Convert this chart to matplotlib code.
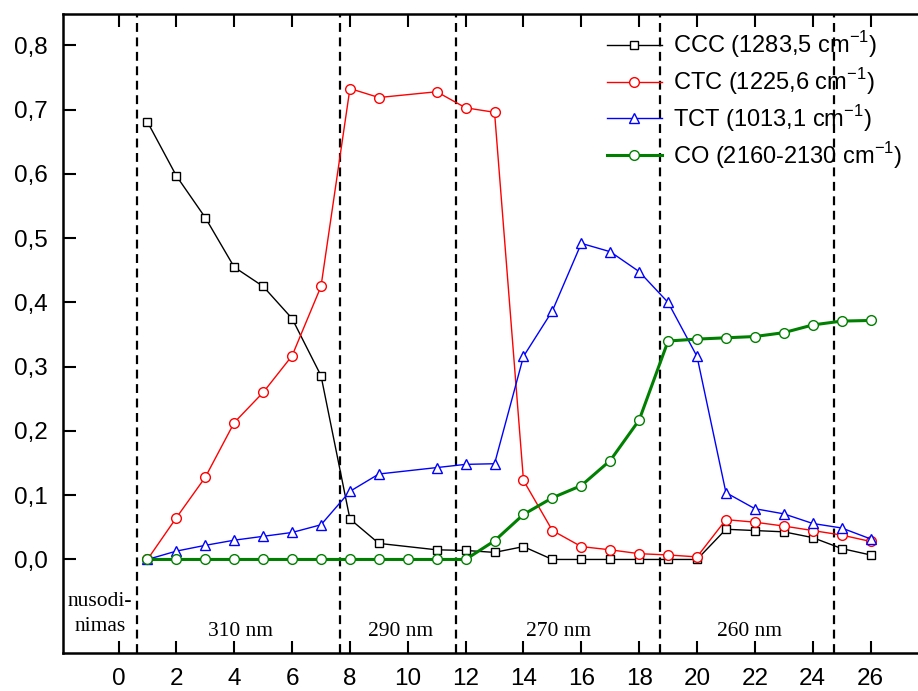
import matplotlib
matplotlib.use("Agg")
import matplotlib.pyplot as plt
import numpy as np

plt.rcParams["font.family"] = ["Liberation Sans", "DejaVu Sans"]
plt.rcParams["mathtext.fontset"] = "custom"
plt.rcParams["mathtext.rm"] = "Liberation Sans"

# irradiation step number
x_all = np.arange(1, 27)
x_no10 = np.array([1, 2, 3, 4, 5, 6, 7, 8, 9, 11, 12, 13, 14, 15, 16, 17, 18, 19,
                   20, 21, 22, 23, 24, 25, 26])

ccc = [0.681, 0.597, 0.532, 0.455, 0.425, 0.375, 0.286, 0.063, 0.025, 0.015,
       0.014, 0.011, 0.020, 0.0, 0.0, 0.0, 0.0, 0.0, 0.0, 0.047, 0.045, 0.043,
       0.034, 0.017, 0.007]
ctc = [0.0, 0.065, 0.128, 0.213, 0.260, 0.317, 0.425, 0.733, 0.719, 0.728,
       0.703, 0.696, 0.123, 0.045, 0.020, 0.015, 0.009, 0.007, 0.004, 0.062,
       0.058, 0.052, 0.045, 0.038, 0.028]
tct = [0.0, 0.013, 0.022, 0.030, 0.036, 0.042, 0.054, 0.106, 0.133, 0.143,
       0.148, 0.149, 0.316, 0.387, 0.492, 0.479, 0.448, 0.400, 0.316, 0.104,
       0.079, 0.071, 0.056, 0.049, 0.032]
co = [0.0, 0.0, 0.0, 0.0, 0.0, 0.0, 0.0, 0.0, 0.0, 0.0, 0.0, 0.0, 0.029, 0.070,
      0.096, 0.115, 0.154, 0.217, 0.340, 0.343, 0.345, 0.347, 0.353, 0.365,
      0.371, 0.372]

labels = ["CCC (1283,5 cm$^{\\mathrm{-1}}$)", "CTC (1225,6 cm$^{\\mathrm{-1}}$)",
          "TCT (1013,1 cm$^{\\mathrm{-1}}$)", "CO (2160-2130 cm$^{\\mathrm{-1}}$)"]

# boundaries between irradiation wavelengths
bounds = [0.65, 7.65, 11.67, 18.72, 24.75]
regions = ["310 nm", "290 nm", "270 nm", "260 nm"]
region_x = [4.2, 9.75, 15.2, 21.8]

fig = plt.figure(figsize=(9.18, 6.91), dpi=100)
ax = fig.add_axes([63 / 918, 1 - 653 / 691, 1 - 63 / 918, (653 - 14) / 691])

for b in bounds:
    ax.axvline(b, color="black", ls=(0, (4, 2.5)), lw=1.6, zorder=1)

ax.plot(x_no10, ccc, color="black", lw=1, marker="s", ms=6, mfc="white",
        mec="black", mew=1, label=labels[0], zorder=3)
ax.plot(x_no10, ctc, color="red", lw=1, marker="o", ms=7, mfc="white",
        mec="red", mew=1, label=labels[1], zorder=3)
ax.plot(x_no10, tct, color="blue", lw=1, marker="^", ms=7.5, mfc="white",
        mec="blue", mew=1, label=labels[2], zorder=3)
ax.plot(x_all, co, color="green", lw=2.2, marker="o", ms=7, mfc="white",
        mec="green", mew=1, label=labels[3], zorder=3)

ax.set_xlim(-1.92, 27.64)
ax.set_ylim(-0.1456, 0.849)
ax.set_xticks(np.arange(0, 27, 2))
ax.set_yticks(np.arange(0, 0.81, 0.1))
ax.set_yticklabels([f"{v:.1f}".replace(".", ",") for v in np.arange(0, 0.81, 0.1)])
ax.tick_params(axis="both", direction="in", length=9, width=1.5,
               labelsize=17.5, pad=11, top=True, right=False)
ax.spines["right"].set_visible(False)
for s in ["left", "bottom", "top"]:
    ax.spines[s].set_linewidth(1.8)

serif = ["Liberation Serif", "DejaVu Serif"]
for name, xp in zip(regions, region_x):
    ax.text(xp, -0.112, name, ha="center", va="center", fontsize=15.5,
            family=serif)
ax.text(-0.65, -0.066, "nusodi-", ha="center", va="center", fontsize=15.5,
        family=serif)
ax.text(-0.65, -0.105, "nimas", ha="center", va="center", fontsize=15.5,
        family=serif)

ax.legend(loc="upper right", bbox_to_anchor=(1.0, 1.0), frameon=False,
          fontsize=17, handlelength=2.3, handletextpad=0.5,
          labelspacing=0.25, borderaxespad=0.25)

fig.savefig("out.png", dpi=100)
